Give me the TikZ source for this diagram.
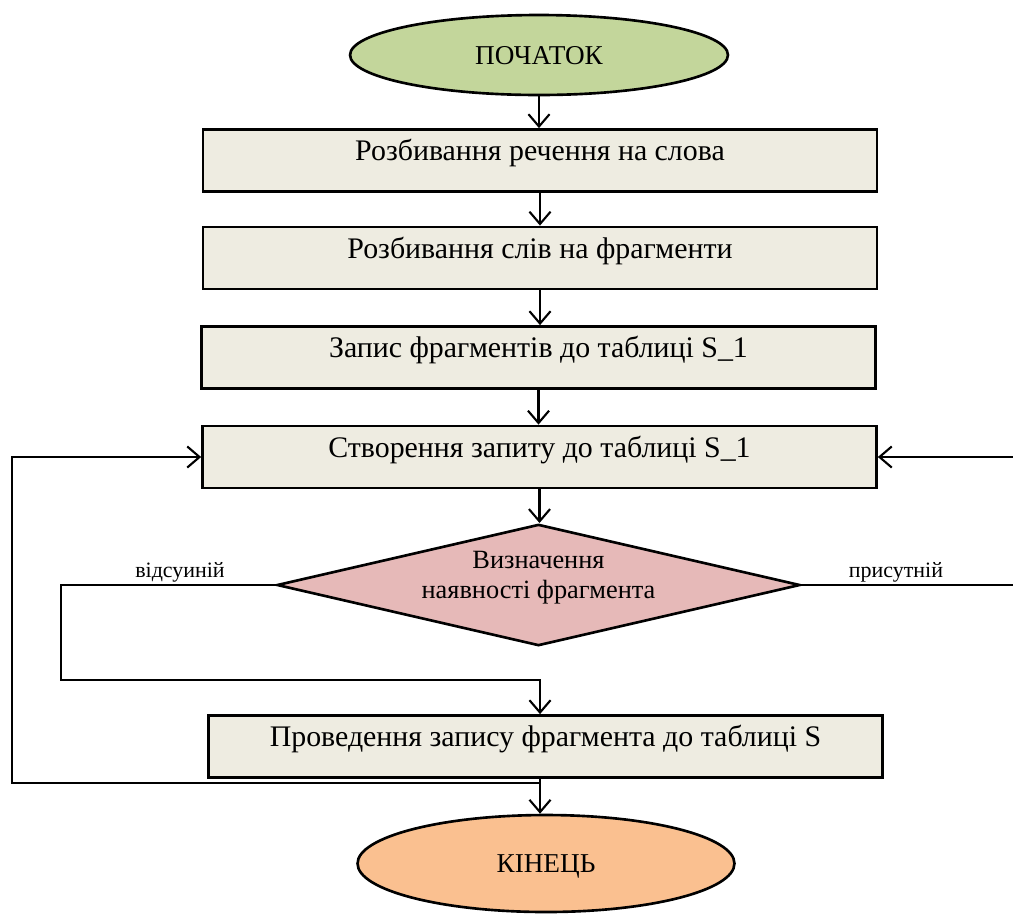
\documentclass[tikz,border=0pt]{standalone}
\usepackage{fontspec}
\setmainfont{Liberation Serif}
\usetikzlibrary{shapes.geometric,arrows.meta}
\definecolor{startg}{HTML}{C3D69B}
\definecolor{boxf}{HTML}{EEECE1}
\definecolor{diaf}{HTML}{E6B9B8}
\definecolor{endo}{HTML}{FAC090}
\begin{document}
\begin{tikzpicture}[x=0.02cm,y=-0.02cm,
  conn/.style={line width=1.2pt,-{Straight Barb[length=7pt,width=12pt,line width=1.2pt]}},
  plain/.style={line width=1.2pt},
  stepbox/.style={rectangle,draw,line width=1.6pt,fill=boxf,minimum width=13.48cm,minimum height=1.24cm,inner sep=0pt,font=\fontsize{17}{20}\selectfont,text height=0.41cm,text depth=0.40cm},
  term/.style={ellipse,draw,line width=1.5pt,inner sep=0pt,font=\fontsize{15.5}{18}\selectfont,text height=0.36cm,text depth=0pt},
  decision/.style={diamond,draw,line width=1.5pt,fill=diaf,inner sep=0pt,aspect=4.31,minimum width=10.34cm,minimum height=2.4cm,align=center,font=\fontsize{15}{17}\selectfont,text depth=0.4cm},
  lab/.style={anchor=base,inner sep=0pt,font=\fontsize{12.5}{14}\selectfont}]
\useasboundingbox (0,0) rectangle (1013,914);
\node[term,fill=startg,minimum width=7.56cm,minimum height=1.6cm] (start) at (539,55) {ПОЧАТОК};
\node[stepbox] (b1) at (540,160.5) {Розбивання речення на слова};
\node[stepbox] (b2) at (540,258) {Розбивання слів на фрагменти};
\node[stepbox] (b3) at (538.5,357.5) {Запис фрагментів до таблиці S\_1};
\node[stepbox] (b4) at (539.5,457) {Створення запиту до таблиці S\_1};
\node[decision] (dia) at (538.5,585) {Визначення\\наявності фрагмента};
\node[stepbox] (b5) at (545.5,746.5) {Проведення запису фрагмента до таблиці S};
\node[term,fill=endo,minimum width=7.54cm,minimum height=1.94cm] (end) at (546,863.5) {КІНЕЦЬ};
\node[lab] (lno) at (180,577) {відсуиній};
\node[lab] (lyes) at (896,577) {присутній};
\coordinate (l1) at (61,585);
\coordinate (l2) at (61,680);
\coordinate (lb) at (540,783);
\coordinate (lc) at (12,783);
\coordinate (r1) at (1030,585);
\draw[conn] (start.south) -- (start.south |- b1.north);
\draw[conn] (b1.south) -- (b1.south |- b2.north);
\draw[conn] (b2.south) -- (b2.south |- b3.north);
\draw[conn] (b3.south) -- (b3.south |- b4.north);
\draw[conn] (b4.south) -- (b4.south |- dia.north);
\draw[conn] (dia.west) -- (l1) -- (l2) -| (lb |- b5.north);
\draw[conn] (lb |- b5.south) -- (lb |- end.north);
\draw[conn] (lb) -- (lc) |- (b4.west);
\draw[conn] (dia.east) -- (r1) |- (b4.east);
\end{tikzpicture}
\end{document}
